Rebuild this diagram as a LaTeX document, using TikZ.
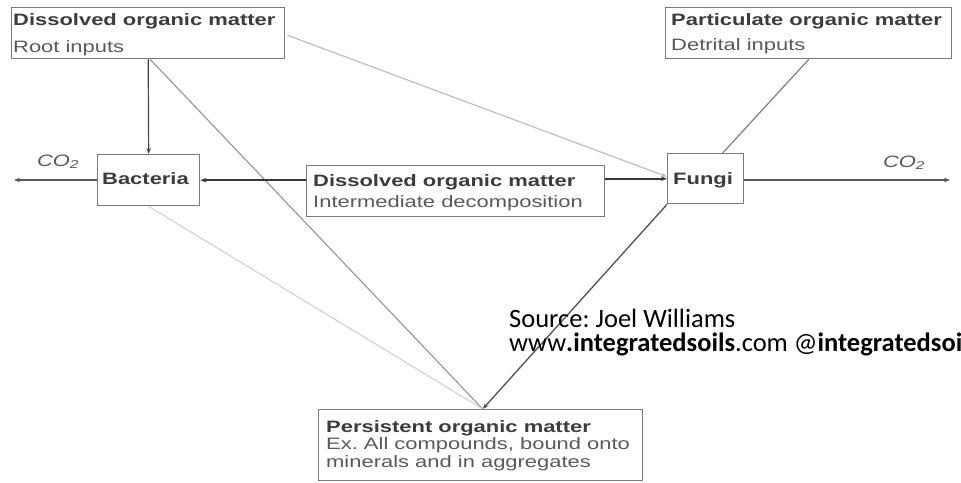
\documentclass[tikz,border=0pt]{standalone}
\usepackage{fontspec}
\setmainfont{Liberation Sans}
\newfontfamily\diag[FakeStretch=1.33]{Liberation Sans}
\newfontfamily\srcfont{Carlito}
\usetikzlibrary{calc,arrows.meta}
\definecolor{boxc}{HTML}{7A7A7A}
\definecolor{titc}{HTML}{3C3C3C}
\definecolor{subc}{HTML}{5A5A5A}
\tikzset{
  box/.style={draw=boxc, line width=1.4pt, inner sep=0pt, anchor=north west},
  ttl/.style={anchor=base west, inner sep=0pt, text=titc, font=\diag\fontsize{16.5}{18}\selectfont\bfseries},
  sub/.style={anchor=base west, inner sep=0pt, text=subc, font=\diag\fontsize{16.5}{18}\selectfont},
  lbl/.style={anchor=base, inner sep=0pt, text=subc, font=\diag\fontsize{16.5}{18}\selectfont\itshape},
  tip/.style={-{Stealth[length=6pt,width=4.5pt]}},
  src/.style={anchor=base west, inner sep=0pt, text=black, font=\srcfont\fontsize{26.5}{30}\selectfont},
}
\begin{document}
\frenchspacing
\begin{tikzpicture}[x=1pt,y=-1pt]
\clip (0,0) rectangle (961,482);
\fill[white] (0,0) rectangle (961,482);
% boxes
\node[box, minimum width=273pt, minimum height=51pt] (dom1) at (11,7) {};
\node[box, minimum width=286pt, minimum height=51pt] (pom) at (665,7) {};
\node[box, minimum width=102pt, minimum height=51pt] (bact) at (97,154) {};
\node[box, minimum width=298pt, minimum height=51pt] (mid) at (306,165) {};
\node[box, minimum width=76pt, minimum height=50pt] (fungi) at (667,153) {};
\node[box, minimum width=324pt, minimum height=71pt] (pers) at (318,409) {};
% texts
\node[ttl] (t1) at (13,25) {Dissolved organic matter};
\node[sub] (s1) at (13,52) {Root inputs};
\node[ttl] (t2) at (671,25) {Particulate organic matter};
\node[sub] (s2) at (671,50) {Detrital inputs};
\node[ttl] (tb) at (102,184) {Bacteria};
\node[ttl] (tf) at (673,184) {Fungi};
\node[ttl] (t3) at (313,186) {Dissolved organic matter};
\node[sub] (s3) at (313,207) {Intermediate decomposition};
\node[ttl] (t4) at (326,432) {Persistent organic matter};
\node[sub] (s4) at (326,449) {Ex. All compounds, bound onto};
\node[sub] (s5) at (326,467) {minerals and in aggregates};
\node[lbl] (co2a) at (58,166) {CO\textsubscript{2}};
\node[lbl] (co2b) at (904,167) {CO\textsubscript{2}};
% coordinates
\coordinate (pin) at ($(pers.north)+(2,0)$);
\coordinate (endl) at (14,180);
\coordinate (endr) at (950,180);
% connectors
\draw[tip, draw=black!72, line width=1.2pt] (dom1.south) -- (bact.north);
\draw[tip, draw=black!25, line width=1.2pt] ($(dom1.east)+(2,2)$) -- ($(fungi.west)+(0,-2)$);
\draw[draw=black!42, line width=1.1pt] ($(dom1.south)+(2,0)$) -- (pin);
\draw[draw=black!18, line width=1.1pt] (bact.south) -- (pin);
\draw[draw=black!50, line width=1.2pt] (pom.south) -- ($(fungi.north)+(17,0)$);
\draw[tip, draw=black!68, line width=1.3pt] (fungi.south west) -- (pin);
\draw[tip, draw=black!78, line width=2pt] (mid.west |- bact.east) -- (bact.east);
\draw[tip, draw=black!78, line width=2pt] (mid.east |- fungi.west) -- (fungi.west);
\draw[tip, draw=black!65, line width=1.1pt] (bact.west |- endl) -- (endl);
\draw[tip, draw=black!65, line width=1.1pt] (fungi.east |- endr) -- (endr);
% source
\node[src] (so1) at (509,327) {Source: Joel Williams};
\node[src] (so2) at (509,351) {www\textbf{.integratedsoils}.com @\textbf{integratedsoils}};
\end{tikzpicture}
\end{document}
